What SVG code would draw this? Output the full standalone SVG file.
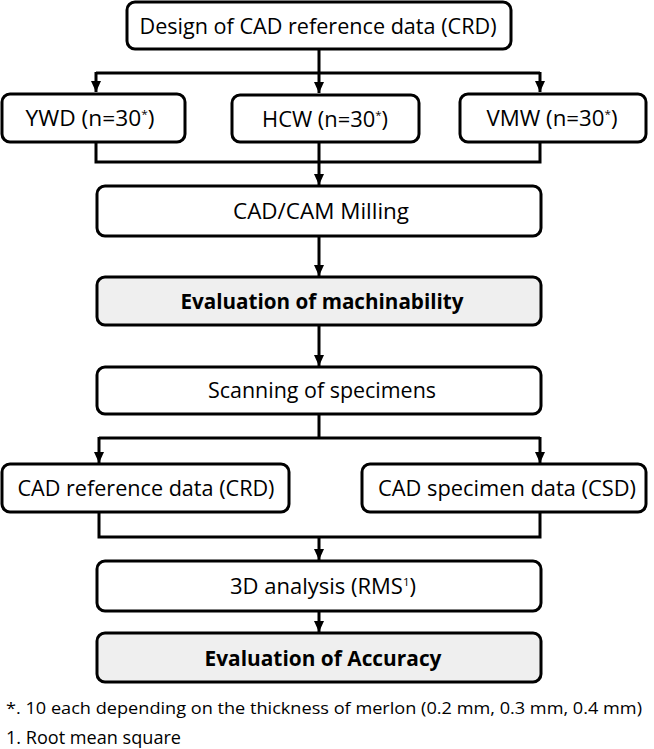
<svg xmlns="http://www.w3.org/2000/svg" width="654" height="749" viewBox="0 0 654 749">
<style>
.box{fill:#ffffff;stroke:#000000;stroke-width:3}
.hl{fill:#efefef;stroke:#000000;stroke-width:3}
.t{font-family:"Open Sans","Noto Sans",sans-serif;font-size:21px;fill:#000000;text-anchor:middle}
.b{font-weight:bold}
.fn{font-family:"Open Sans","Noto Sans",sans-serif;font-size:19px;fill:#000000}
.sup{font-size:11px}
.c{fill:none;stroke:#000000;stroke-width:3}
.a{fill:none;stroke:#000000;stroke-width:3;marker-end:url(#ah)}
</style>
<defs>
<marker id="ah" markerUnits="userSpaceOnUse" markerWidth="12" markerHeight="12" viewBox="0 0 12 12" refX="11" refY="6" orient="auto">
<path d="M0,1 L11,6 L0,11 Z" fill="#000000"/>
</marker>
</defs>
<rect width="654" height="749" fill="#ffffff"/>
<g id="connectors">
<path class="c" d="M319,49 V73 M96,73 H540"/>
<path class="a" d="M96,72 V92"/>
<path class="a" d="M319,73 V93"/>
<path class="a" d="M540,72 V92"/>
<path class="c" d="M96,142 V162 H540 V142 M319,142 V162"/>
<path class="a" d="M319,162 V185"/>
<path class="a" d="M319,236 V276"/>
<path class="a" d="M319,325 V366"/>
<path class="c" d="M319,414 V438 M99,438 H540"/>
<path class="a" d="M99,437 V463"/>
<path class="a" d="M540,437 V463"/>
<path class="c" d="M99,512 V537 H540 V512"/>
<path class="a" d="M319,537 V560"/>
<path class="a" d="M319,611 V632"/>
</g>
<g id="n-design">
<rect class="box" x="127" y="2" width="384" height="47" rx="8"/>
<text class="t" x="318" y="34" textLength="357" lengthAdjust="spacingAndGlyphs">Design of CAD reference data (CRD)</text>
</g>
<g id="n-ywd">
<rect class="box" x="2" y="94" width="183" height="48" rx="8"/>
<text class="t" x="90" y="126" textLength="129" lengthAdjust="spacingAndGlyphs">YWD (n=30<tspan class="sup" dy="-8">*</tspan><tspan dy="8">)</tspan></text>
</g>
<g id="n-hcw">
<rect class="box" x="232" y="95" width="187" height="47" rx="8"/>
<text class="t" x="325" y="127" textLength="126" lengthAdjust="spacingAndGlyphs">HCW (n=30<tspan class="sup" dy="-8">*</tspan><tspan dy="8">)</tspan></text>
</g>
<g id="n-vmw">
<rect class="box" x="460" y="94" width="186" height="48" rx="8"/>
<text class="t" x="552" y="126" textLength="131" lengthAdjust="spacingAndGlyphs">VMW (n=30<tspan class="sup" dy="-8">*</tspan><tspan dy="8">)</tspan></text>
</g>
<g id="n-milling">
<rect class="box" x="97" y="186" width="444" height="50" rx="8"/>
<text class="t" x="321" y="219" textLength="176" lengthAdjust="spacingAndGlyphs">CAD/CAM Milling</text>
</g>
<g id="n-machinability">
<rect class="hl" x="97" y="277" width="444" height="48" rx="8"/>
<text class="t b" x="322" y="309" textLength="283" lengthAdjust="spacingAndGlyphs">Evaluation of machinability</text>
</g>
<g id="n-scanning">
<rect class="box" x="97" y="367" width="444" height="47" rx="8"/>
<text class="t" x="322" y="398" textLength="228" lengthAdjust="spacingAndGlyphs">Scanning of specimens</text>
</g>
<g id="n-crd">
<rect class="box" x="2" y="464" width="287" height="48" rx="8"/>
<text class="t" x="146" y="496" textLength="257" lengthAdjust="spacingAndGlyphs">CAD reference data (CRD)</text>
</g>
<g id="n-csd">
<rect class="box" x="362" y="464" width="284" height="48" rx="8"/>
<text class="t" x="507" y="496" textLength="258" lengthAdjust="spacingAndGlyphs">CAD specimen data (CSD)</text>
</g>
<g id="n-3d">
<rect class="box" x="97" y="561" width="444" height="50" rx="8"/>
<text class="t" x="323" y="594" textLength="186" lengthAdjust="spacingAndGlyphs">3D analysis (RMS<tspan class="sup" dy="-8">1</tspan><tspan dy="8">)</tspan></text>
</g>
<g id="n-accuracy">
<rect class="hl" x="97" y="633" width="444" height="49" rx="8"/>
<text class="t b" x="323" y="666" textLength="237" lengthAdjust="spacingAndGlyphs">Evaluation of Accuracy</text>
</g>
<g id="footnotes">
<text class="fn" x="6" y="714" font-size="17" style="font-size:17px" textLength="636" lengthAdjust="spacingAndGlyphs">*. 10 each depending on the thickness of merlon (0.2 mm, 0.3 mm, 0.4 mm)</text>
<text class="fn" x="6" y="744" textLength="175" lengthAdjust="spacingAndGlyphs">1. Root mean square</text>
</g>
</svg>
